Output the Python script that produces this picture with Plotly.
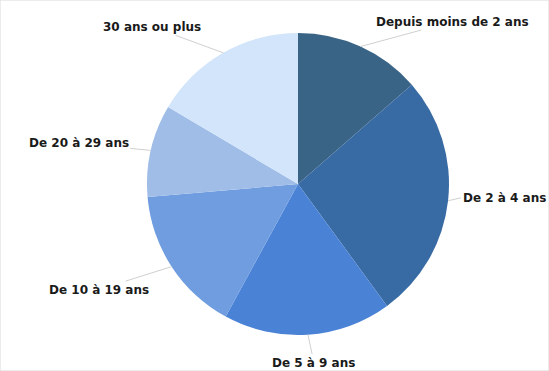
import math
import plotly.graph_objects as go

categories = ["Depuis moins de 2 ans", "De 2 à 4 ans", "De 5 à 9 ans",
              "De 10 à 19 ans", "De 20 à 29 ans", "30 ans ou plus"]
values = [13.6, 26.4, 18.0, 15.7, 9.9, 16.5]
colors = ["#3a6486", "#386aa4", "#4a82d6", "#6f9de0", "#a0bde8", "#d3e5fb"]

# label offsets (pixels) relative to slice edge point: style only
label_offsets = [(92, -25, "center"), (13, -3, "left"), (6, 28, "center"),
                 (-73, 23, "center"), (-72, -7, "center"), (-71, -26, "center")]

W, H = 549, 371
cx, cy, r = 298, 184, 151

fig = go.Figure(go.Pie(
    labels=categories, values=values, sort=False, direction="clockwise",
    rotation=0, marker=dict(colors=colors, line=dict(width=0)),
    textinfo="none", hoverinfo="label+percent", showlegend=False,
    domain=dict(x=[(cx - r) / W, (cx + r) / W], y=[1 - (cy + r) / H, 1 - (cy - r) / H]),
))

total = sum(values)
cum = 0
for cat, v, (ax, ay, xa) in zip(categories, values, label_offsets):
    mid = (cum + v / 2) / total * 2 * math.pi
    cum += v
    px = cx + r * math.sin(mid)
    py = cy - r * math.cos(mid)
    fig.add_annotation(
        x=px / W, y=1 - py / H, xref="paper", yref="paper",
        text=cat, showarrow=True, arrowhead=0, arrowwidth=1, arrowcolor="#d0d0d0",
        ax=ax, ay=ay, xanchor=xa, standoff=0,
        font=dict(family="DejaVu Sans", size=12, color="#1a1a1a", weight="bold"),
    )

fig.add_shape(type="rect", xref="paper", yref="paper", x0=0, y0=0, x1=1, y1=1,
              line=dict(color="#d9d9d9", width=1))

fig.update_layout(width=W, height=H, margin=dict(l=0, r=0, t=0, b=0),
                  paper_bgcolor="white", plot_bgcolor="white")
fig.write_html("out.html")
